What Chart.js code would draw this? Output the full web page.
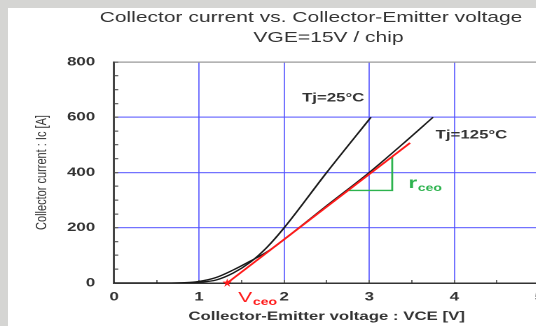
<!DOCTYPE html>
<html>
<head>
<meta charset="utf-8">
<script src="https://cdn.jsdelivr.net/npm/chart.js@4"></script>
<style>
  html, body { margin: 0; padding: 0; overflow: hidden; }
  body { width: 536px; height: 326px; background: #d5d5d3; position: relative; }
  #panel { position: absolute; left: 8px; top: 8px; right: 0; bottom: 0; background: #fff; }
  #chart { position: absolute; left: 0; top: 0; }
</style>
</head>
<body>
<div id="panel"></div>
<!-- the source figure is stretched sideways, so the canvas is drawn narrow and widened by css -->
<canvas id="chart" width="444" height="326" style="width:621.6px;height:326px"></canvas>
<script>
// Ic - Vce output characteristic, VGE = 15V
const vce25 = [0, 0.5, 0.8, 1.0, 1.2, 1.4, 1.6, 1.8, 2.0, 2.5, 3.02];
const ic25 = [0, 0, 0.5, 3, 11, 36, 75, 130, 200, 400, 600];
const vce125 = [0, 0.5, 0.8, 1.0, 1.2, 1.4, 1.6, 1.8, 2.0, 2.5, 3.0, 3.4, 3.75];
const ic125 = [0, 0, 1, 6, 20, 47, 79, 113, 158, 280, 400, 505, 600];

// linear model: threshold Vceo and slope rceo
const tangentV = [1.33, 3.48];
const tangentI = [0, 507];
const slopeV = [2.75, 3.27, 3.27];
const slopeI = [335, 335, 458];
const vceoV = [1.33];
const vceoI = [0];

const xTicks = [0, 1, 2, 3, 4, 5];
const yTicks = [0, 200, 400, 600, 800];

const fam = "'Liberation Sans', Arial, sans-serif";
const blue = 'rgba(80, 80, 255, 0.8)';

const notes = [
  { text: 'Tj=25°C', x: 2.21, y: 657, font: 'bold 12px', color: '#333' },
  { text: 'Tj=125°C', x: 3.78, y: 523, font: 'bold 12px', color: '#333' },
  { text: 'r', sub: 'ceo', x: 3.46, y: 344, font: 'bold 16px', color: '#2db34e' },
  { text: 'V', sub: 'ceo', x: 1.46, y: -69, font: '15px', color: '#ff1a1a' }
];

function pts(xs, ys) {
  return xs.map((v, i) => ({ x: v, y: ys[i] }));
}

const notesPlugin = {
  id: 'notes',
  afterDatasetsDraw(chart) {
    const { ctx } = chart;
    const sx = chart.scales.x, sy = chart.scales.y;
    ctx.save();
    ctx.textAlign = 'left';
    ctx.textBaseline = 'alphabetic';
    notes.forEach(n => {
      const px = sx.getPixelForValue(n.x);
      const py = sy.getPixelForValue(n.y);
      ctx.fillStyle = n.color;
      ctx.font = n.font + ' ' + fam;
      ctx.fillText(n.text, px, py);
      if (n.sub) {
        const w = ctx.measureText(n.text).width;
        ctx.font = 'bold 10px ' + fam;
        ctx.fillText(n.sub, px + w + 0.5, py + 3);
      }
    });
    ctx.restore();
  }
};

const starImg = new Image(7, 9);

function draw() {
  new Chart(document.getElementById('chart'), {
    type: 'scatter',
    data: {
      datasets: [
        {
          data: pts(vceoV, vceoI),
          pointStyle: starImg,
          pointRadius: 5,
          clip: false
        },
        {
          data: pts(tangentV, tangentI),
          showLine: true,
          borderColor: '#ff1a1a',
          borderWidth: 1.6,
          pointRadius: 0
        },
        {
          data: pts(slopeV, slopeI),
          showLine: true,
          borderColor: '#2db34e',
          borderWidth: 1.4,
          pointRadius: 0
        },
        {
          data: pts(vce25, ic25),
          showLine: true,
          borderColor: '#1a1a1a',
          borderWidth: 1.3,
          pointRadius: 0,
          cubicInterpolationMode: 'monotone'
        },
        {
          data: pts(vce125, ic125),
          showLine: true,
          borderColor: '#1a1a1a',
          borderWidth: 1.3,
          pointRadius: 0,
          cubicInterpolationMode: 'monotone'
        }
      ]
    },
    options: {
      responsive: false,
      devicePixelRatio: 2,
      animation: false,
      events: [],
      layout: { padding: { top: 8, left: 0, right: 0, bottom: 0 } },
      plugins: {
        legend: { display: false },
        tooltip: { enabled: false },
        title: {
          display: true,
          text: ['Collector current vs. Collector-Emitter voltage', '      VGE=15V / chip'],
          color: '#333',
          font: { family: fam, size: 15, weight: 'normal', lineHeight: 20 / 15 },
          padding: { top: 0, bottom: 14 }
        }
      },
      scales: {
        x: {
          type: 'linear',
          min: 0,
          max: 5,
          afterFit: s => { s.height = 43; },
          ticks: {
            stepSize: 0.5,
            autoSkip: false,
            maxRotation: 0,
            padding: 9.8,
            color: '#333',
            font: { family: fam, size: 12, weight: 'bold' },
            callback: v => xTicks.includes(v) ? v : ''
          },
          grid: {
            tickLength: -3,
            tickColor: '#666',
            lineWidth: 1,
            color: c => (c.tick && Number.isInteger(c.tick.value) && c.tick.value > 0 && c.tick.value < 5) ? blue : 'rgba(0,0,0,0)'
          },
          border: { color: '#333', width: 1.5 },
          title: {
            display: true,
            text: 'Collector-Emitter voltage : VCE [V]',
            color: '#333',
            font: { family: fam, size: 12, weight: 'bold' },
            padding: { top: 0, bottom: 2 }
          }
        },
        y: {
          type: 'linear',
          min: 0,
          max: 800,
          afterFit: s => { s.width = 81.4; },
          ticks: {
            stepSize: 50,
            autoSkip: false,
            padding: 16.5,
            color: '#333',
            font: { family: fam, size: 12, weight: 'bold' },
            callback: v => yTicks.includes(v) ? v : ''
          },
          grid: {
            tickLength: -3,
            tickColor: '#666',
            lineWidth: 1.3,
            color: c => {
              if (!c.tick) return 'rgba(0,0,0,0)';
              if (c.tick.value === 800) return '#999';
              if (c.tick.value > 0 && c.tick.value % 200 === 0) return blue;
              return 'rgba(0,0,0,0)';
            }
          },
          border: { color: '#444', width: 1.5 },
          title: {
            display: true,
            text: 'Collector current : Ic [A]',
            color: '#333',
            font: { family: fam, size: 11 },
            padding: { top: 23.4, bottom: 0 }
          }
        },
        // empty right-hand box: the plot runs past the right edge of the picture
        yr: {
          type: 'linear',
          position: 'right',
          afterFit: s => { s.width = 59; },
          ticks: { display: false },
          grid: { display: false },
          border: { display: false }
        }
      }
    },
    plugins: [notesPlugin]
  });
}

starImg.onload = draw;
starImg.onerror = draw;
starImg.src = 'data:image/svg+xml;utf8,' + encodeURIComponent(
  '<svg xmlns="http://www.w3.org/2000/svg" width="70" height="90" viewBox="0 0 100 100" preserveAspectRatio="none">' +
  '<polygon points="50,0 61,35 98,35 68,57 79,91 50,70 21,91 32,57 2,35 39,35" fill="#ff1a1a"/></svg>');
</script>
</body>
</html>
